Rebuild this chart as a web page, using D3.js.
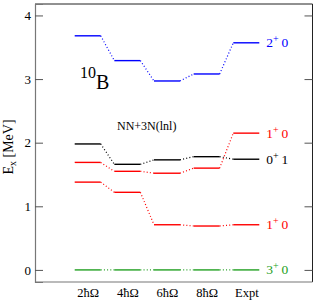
<!DOCTYPE html>
<html>
<head>
<meta charset="utf-8">
<script src="https://cdn.jsdelivr.net/npm/d3@7"></script>
<style>
  body { margin: 0; background: #fff; }
</style>
</head>
<body>
<div id="chart"></div>
<script>
// columns (truncation hbar-Omega + experiment)
const categories = ["2\u0127\u03A9", "4\u0127\u03A9", "6\u0127\u03A9", "8\u0127\u03A9", "Expt"];

// level energies, MeV
const level2p0  = [3.68, 3.29, 2.97, 3.08, 3.57];
const level0p1  = [1.98, 1.66, 1.73, 1.78, 1.74];
const level1p0a = [1.69, 1.55, 1.52, 1.60, 2.15];
const level1p0b = [1.38, 1.22, 0.71, 0.69, 0.71];
const level3p0  = [0, 0, 0, 0, 0];

const yTicks = [0, 1, 2, 3, 4];

const series = [
  { name: "2", par: "+", t: "0", values: level2p0,  color: "#0000ff" },
  { name: "0", par: "+", t: "1", values: level0p1,  color: "#000000" },
  { name: "1", par: "+", t: "0", values: level1p0a, color: "#ff0000" },
  { name: "1", par: "+", t: "0", values: level1p0b, color: "#ff0000" },
  { name: "3", par: "+", t: "0", values: level3p0,  color: "#22a022" }
];

const FONT = "Liberation Serif";
const W = 316, H = 303;
const mLeft = 35, mRight = 312.5, mTop = 4, mBottom = 282;

const svg = d3.select("#chart").append("svg")
  .attr("width", W).attr("height", H)
  .attr("font-family", FONT);

const x = d3.scalePoint().domain(categories).range([87.7, 246.3]);
const y = d3.scaleLinear().domain([-0.19, 4.18]).range([mBottom, mTop]);
const half = 13;

// frame
svg.append("line").attr("x1", mLeft).attr("x2", mRight).attr("y1", mTop).attr("y2", mTop)
  .attr("stroke", "#222");
svg.append("line").attr("x1", mRight).attr("x2", mRight).attr("y1", mTop).attr("y2", mBottom)
  .attr("stroke", "#222");

// left axis
const yAxis = svg.append("g").attr("transform", `translate(${mLeft},0)`)
  .call(d3.axisLeft(y).tickValues(yTicks).tickSize(-8).tickPadding(3).tickFormat(d3.format("d")))
  .attr("font-family", FONT);
yAxis.select(".domain").attr("stroke", "#777").attr("stroke-width", 1.2);
yAxis.selectAll(".tick line").attr("stroke", "#555");
yAxis.selectAll(".tick text").attr("font-size", 13).attr("x", -4).attr("fill", "#000");

// right ticks
svg.append("g").attr("transform", `translate(${mRight},0)`)
  .call(d3.axisRight(y).tickValues(yTicks).tickSize(-8).tickFormat(""))
  .call(g => g.select(".domain").remove())
  .selectAll(".tick line").attr("stroke", "#555");

// bottom axis
const xAxis = svg.append("g").attr("transform", `translate(0,${mBottom})`)
  .call(d3.axisBottom(x).tickSize(0).tickPadding(6))
  .attr("font-family", FONT);
xAxis.select(".domain").attr("d", `M${mLeft},0H${mRight}`).attr("stroke", "#777").attr("stroke-width", 1.2);
xAxis.selectAll(".tick text").attr("font-size", 12.5).attr("fill", "#000");

// levels + connectors
series.forEach(s => {
  const g = svg.append("g");
  g.selectAll("line.lvl").data(s.values).join("line")
    .attr("class", "lvl")
    .attr("x1", (d, i) => x(categories[i]) - half)
    .attr("x2", (d, i) => x(categories[i]) + half)
    .attr("y1", d => y(d)).attr("y2", d => y(d))
    .attr("stroke", s.color).attr("stroke-width", 1.4);
  g.selectAll("line.con").data(s.values.slice(1)).join("line")
    .attr("class", "con")
    .attr("x1", (d, i) => x(categories[i]) + half)
    .attr("y1", (d, i) => y(s.values[i]))
    .attr("x2", (d, i) => x(categories[i + 1]) - half)
    .attr("y2", d => y(d))
    .attr("stroke", s.color).attr("stroke-width", 1.2)
    .attr("stroke-dasharray", "1,2.2");
  const lt = g.append("text")
    .attr("x", x("Expt") + half + 7)
    .attr("y", y(s.values[4]) + 4.5)
    .attr("font-size", 13.5).attr("fill", s.color);
  lt.append("tspan").text(s.name);
  lt.append("tspan").text(s.par).attr("dy", -5).attr("font-size", 10);
  lt.append("tspan").text("\u2009" + s.t).attr("dy", 5);
});

// nucleus label
const nuc = svg.append("text").attr("x", 80).attr("y", 89);
nuc.append("tspan").text("10").attr("font-size", 16).attr("dy", -11);
nuc.append("tspan").text("B").attr("font-size", 20).attr("dy", 11);

svg.append("text").attr("x", 117).attr("y", 129.5).attr("font-size", 12)
  .text("NN+3N(lnl)");

// y label
const yl = svg.append("text")
  .attr("transform", `translate(13,147) rotate(-90)`)
  .attr("text-anchor", "middle").attr("font-size", 14);
yl.append("tspan").text("E");
yl.append("tspan").text("x").attr("font-size", 10).attr("dy", 3);
yl.append("tspan").text(" [MeV]").attr("dy", -3);
</script>
</body>
</html>
